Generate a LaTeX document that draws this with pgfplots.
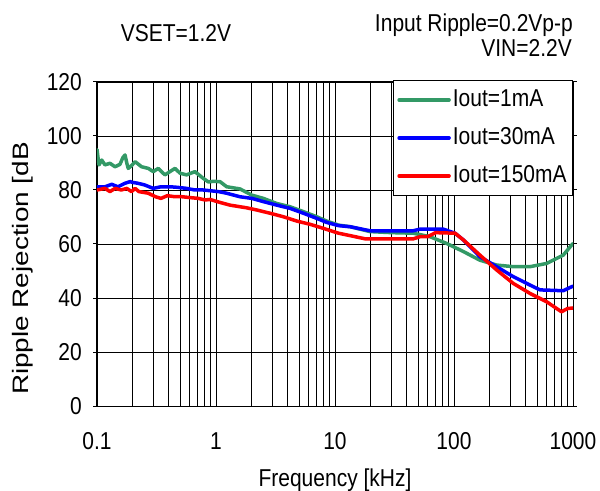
\documentclass[border=0pt]{standalone}
\usepackage{pgfplots}
\pgfplotsset{compat=1.18}
\usepackage{graphicx}
\usepackage{fontspec}
\setmainfont[FakeStretch=0.86]{Liberation Sans}
\newfontfamily\ylabfont{Liberation Sans}
\definecolor{cgreen}{RGB}{51,153,102}
\definecolor{cblue}{RGB}{0,0,255}
\definecolor{cred}{RGB}{255,0,0}
\newcommand{\tfont}{\fontsize{24.5}{29}\selectfont}
\begin{document}
\begin{tikzpicture}
\useasboundingbox (-97bp,-85bp) rectangle (503bp,406bp);
\begin{axis}[
  at={(0,0)}, anchor=south west,
  scale only axis, width=476bp, height=324bp,
  xmode=log, log basis x=10,
  xmin=0.1, xmax=1000, ymin=0, ymax=120,
  xtick={0.1,1,10,100,1000}, xticklabels={0.1,1,10,100,1000},
  minor xtick={0.2,0.3,0.4,0.5,0.6,0.7,0.8,0.9,2,3,4,5,6,7,8,9,20,30,40,50,60,70,80,90,200,300,400,500,600,700,800,900},
  ytick={0,20,40,60,80,100,120},
  /pgf/number format/assume math mode=true,
  ticklabel style={font=\tfont},
  xmajorgrids, xminorgrids, ymajorgrids,
  major grid style={black, line width=0.75bp},
  minor grid style={black, line width=0.75bp},
  axis line style={black, line width=1bp},
  tick align=outside, major tick length=4bp, minor tick length=0pt,
  xtick style={draw=none}, ytick style={black, line width=1bp},
  yticklabel style={inner xsep=0pt, xshift=-11bp},
  xticklabel style={anchor=base, inner sep=0pt, yshift=-39bp},
  xlabel={Frequency [kHz]},
  xlabel style={at={(axis description cs:0.5,0)}, anchor=base, inner sep=0pt, yshift=-80.5bp, font=\tfont},
  ylabel={\ylabfont\fontsize{28}{32}\selectfont\scalebox{1}[0.8]{Ripple Rejection [dB}},
  ylabel style={at={(axis description cs:-0.1565,0.424)}, anchor=center, inner sep=0pt},
  legend cell align=left,
  legend image code/.code={\draw[#1] (0bp,0bp) -- (50bp,0bp);},
  legend style={at={(rel axis cs:1,1)}, anchor=north east, yshift=2bp,
    draw=black, line width=0.75bp, fill=white,
    inner xsep=4bp, inner ysep=6bp, row sep=11bp,
    font=\tfont,
    nodes={inner sep=2bp, text height=18bp, text depth=5bp}},
  every axis plot/.append style={line width=3.5bp, line join=round, line cap=round},
]
\addplot[cgreen] coordinates {
(0.1,95) (0.102,92) (0.104,89.3) (0.1095,91.1) (0.1167,89.3) (0.1286,89.9) (0.1417,88.6)
(0.156,89.5) (0.165,92) (0.172,93) (0.178,90) (0.183,88) (0.195,89) (0.209,90.5)
(0.237,88.6) (0.27,88) (0.297,86.8) (0.327,88) (0.372,85.6) (0.41,86.8) (0.452,88)
(0.499,86.2) (0.566,85.6) (0.665,86.8) (0.782,84.3) (0.862,83) (0.95,83.2) (1.08,83.1)
(1.23,81.2) (1.59,80.4) (2.0,78.1) (2.5,76.9) (3.24,75) (4.19,73.8) (5.42,72) (7.02,70.1)
(8.51,68.5) (10.7,67) (13.4,66.4) (19.7,64.6) (30,64.2) (45.5,64) (62.8,62.7) (86.8,60.2)
(120,57.2) (165,54) (228,52.2) (315,51.6) (435,51.6) (601,52.8) (829,55.9) (1000,60.2)
};
\addlegendentry{Iout=1mA}
\addplot[cblue] coordinates {
(0.1,81.2) (0.1167,81.2) (0.133,82.1) (0.15,81.2) (0.172,82.5) (0.19,83.1) (0.2,82.8)
(0.22,82.5) (0.25,81.9) (0.297,80.6) (0.345,81.2) (0.41,81.2) (0.47,81) (0.566,80.6)
(0.665,80) (0.782,80) (0.95,79.6) (1.05,79.4) (1.23,78.8) (1.59,77.5) (2.0,76.9) (2.5,75.7)
(3.24,74.4) (4.19,73.2) (5.42,71.4) (7.02,69.5) (8.51,68) (10.7,66.8) (13.4,66.4) (19.7,64.9)
(45.5,64.9) (51.8,65.5) (81.3,65.5) (102,64) (120,61.5) (165,55.3) (228,51.6) (315,47.9)
(435,44.8) (528,43) (829,42.7) (1000,44.4)
};
\addlegendentry{Iout=30mA}
\addplot[cred] coordinates {
(0.1,80) (0.1167,80.6) (0.1286,79.4) (0.1417,80.6) (0.16,80) (0.178,80.6) (0.195,79.4)
(0.209,80.6) (0.225,79.4) (0.27,78.8) (0.31,77.5) (0.345,76.9) (0.39,77.9) (0.452,77.5)
(0.52,77.5) (0.6,77.2) (0.71,76.9) (0.81,76.3) (0.891,76.5) (1.08,75.4) (1.31,74.4)
(1.59,73.8) (1.81,73.4) (2.2,72.6) (2.84,71.4) (3.68,70.1) (4.77,68.5) (6.17,67.3)
(7.98,65.8) (10.7,64) (13.4,63.1) (18,61.9) (45.5,61.9) (51.8,62.7) (60,62.7) (70,64.2)
(102,64) (120,61.5) (165,55.9) (228,50.4) (315,45.4) (435,41.7) (601,38.6) (800,34.9)
(900,36.1) (1000,36.3)
};
\addlegendentry{Iout=150mA}
\end{axis}
\node[anchor=base west, inner sep=0pt, font=\tfont] at (23.7bp,364.3bp) {VSET=1.2V};
\node[anchor=base east, inner sep=0pt, font=\tfont] at (476bp,374.3bp) {Input Ripple=0.2Vp-p};
\node[anchor=base east, inner sep=0pt, font=\tfont] at (475bp,349.3bp) {VIN=2.2V};
\end{tikzpicture}
\end{document}
